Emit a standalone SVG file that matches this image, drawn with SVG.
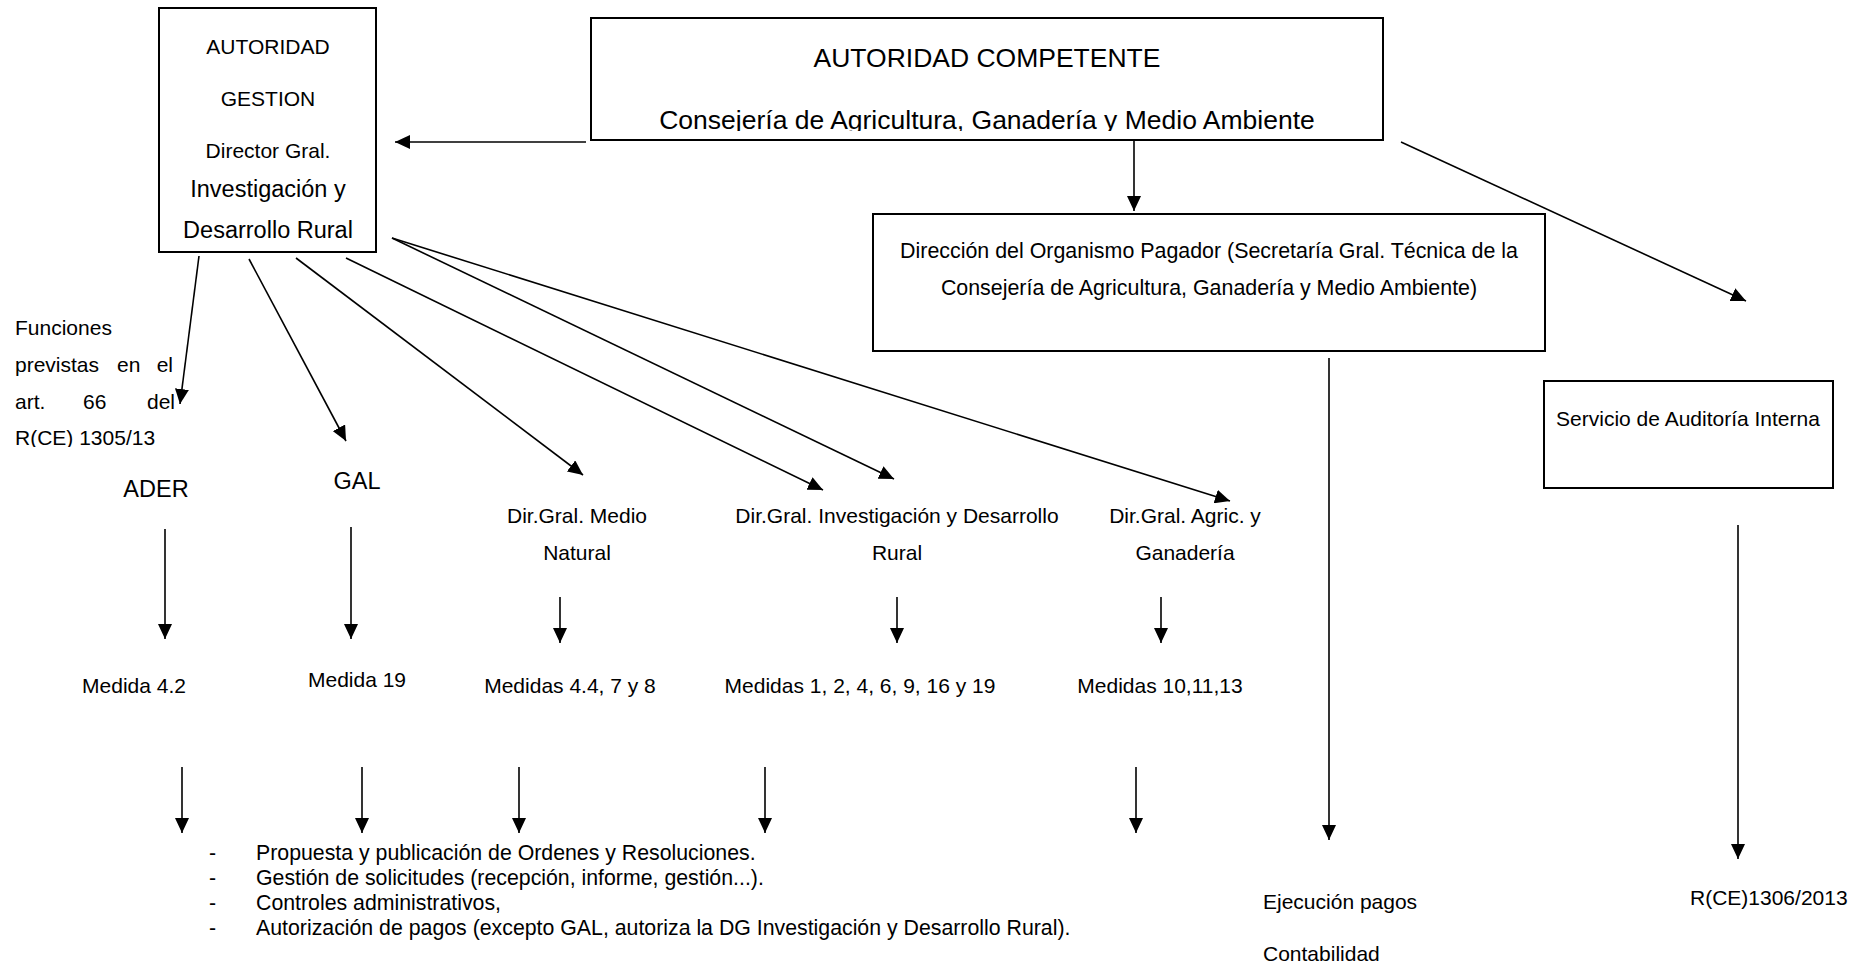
<svg xmlns="http://www.w3.org/2000/svg" width="1865" height="968" viewBox="0 0 1865 968">
<style>
text{font-family:"Liberation Sans",Arial,sans-serif;fill:#000;font-size:21px}
.c{text-anchor:middle}
.e{text-anchor:end}
.big{font-size:23.5px}
.title{font-size:26.5px}
.op{font-size:21.4px}
.li{font-size:21.3px}
.box{fill:#fff;stroke:#000;stroke-width:2}
.ln{stroke:#000;stroke-width:1.6;fill:none;marker-end:url(#ah)}
</style>
<defs>
<marker id="ah" markerUnits="userSpaceOnUse" markerWidth="16" markerHeight="14" refX="15" refY="7" orient="auto">
<path d="M0,0 L15,7 L0,14 z" fill="#000"/>
</marker>
<clipPath id="clipComp"><rect x="591" y="18" width="792" height="113"/></clipPath>
<clipPath id="clipFun"><rect x="0" y="420" width="300" height="27"/></clipPath>
</defs>

<g id="connectors">
<line class="ln" x1="586" y1="142" x2="395" y2="142"/>
<line class="ln" x1="1134" y1="140" x2="1134" y2="211"/>
<line class="ln" x1="1401" y1="142" x2="1746" y2="301"/>
<line class="ln" x1="199" y1="256" x2="180" y2="404"/>
<line class="ln" x1="249" y1="259" x2="346" y2="441"/>
<line class="ln" x1="296" y1="258" x2="583" y2="475"/>
<line class="ln" x1="346" y1="258" x2="823" y2="490"/>
<line class="ln" x1="392" y1="238" x2="894" y2="479"/>
<line class="ln" x1="392" y1="238" x2="1230" y2="501"/>
<line class="ln" x1="165" y1="529" x2="165" y2="639"/>
<line class="ln" x1="351" y1="527" x2="351" y2="639"/>
<line class="ln" x1="560" y1="597" x2="560" y2="643"/>
<line class="ln" x1="897" y1="597" x2="897" y2="643"/>
<line class="ln" x1="1161" y1="597" x2="1161" y2="643"/>
<line class="ln" x1="182" y1="767" x2="182" y2="833"/>
<line class="ln" x1="362" y1="767" x2="362" y2="833"/>
<line class="ln" x1="519" y1="767" x2="519" y2="833"/>
<line class="ln" x1="765" y1="767" x2="765" y2="833"/>
<line class="ln" x1="1136" y1="767" x2="1136" y2="833"/>
<line class="ln" x1="1329" y1="358" x2="1329" y2="840"/>
<line class="ln" x1="1738" y1="525" x2="1738" y2="859"/>
</g>

<g id="autoridad-gestion">
<rect class="box" x="159" y="8" width="217" height="244"/>
<text class="c" x="268" y="54">AUTORIDAD</text>
<text class="c" x="268" y="106">GESTION</text>
<text class="c" x="268" y="158">Director Gral.</text>
<text class="c big" x="268" y="197">Investigación y</text>
<text class="c big" x="268" y="238">Desarrollo Rural</text>
</g>

<g id="autoridad-competente">
<rect class="box" x="591" y="18" width="792" height="122"/>
<text class="c title" x="987" y="67">AUTORIDAD COMPETENTE</text>
<text class="c title" x="987" y="129" clip-path="url(#clipComp)">Consejería de Agricultura, Ganadería y Medio Ambiente</text>
</g>

<g id="organismo-pagador">
<rect class="box" x="873" y="214" width="672" height="137"/>
<text class="c op" x="1209" y="258">Dirección del Organismo Pagador (Secretaría Gral. Técnica de la</text>
<text class="c op" x="1209" y="295">Consejería de Agricultura, Ganadería y Medio Ambiente)</text>
</g>

<g id="auditoria">
<rect class="box" x="1544" y="381" width="289" height="107"/>
<text class="c" x="1688" y="426">Servicio de Auditoría Interna</text>
</g>

<g id="funciones">
<text x="15" y="335">Funciones</text>
<text x="15" y="372">previstas</text>
<text x="117" y="372">en</text>
<text class="e" x="173" y="372">el</text>
<text x="15" y="409">art.</text>
<text x="83" y="409">66</text>
<text class="e" x="175" y="409">del</text>
<text x="15" y="445" clip-path="url(#clipFun)">R(CE) 1305/13</text>
</g>

<g id="ader"><text class="c big" x="156" y="497">ADER</text></g>
<g id="gal"><text class="c big" x="357" y="489">GAL</text></g>
<g id="dg-medio-natural">
<text class="c" x="577" y="523">Dir.Gral. Medio</text>
<text class="c" x="577" y="560">Natural</text>
</g>
<g id="dg-investigacion">
<text class="c" x="897" y="523">Dir.Gral. Investigación y Desarrollo</text>
<text class="c" x="897" y="560">Rural</text>
</g>
<g id="dg-agric">
<text class="c" x="1185" y="523">Dir.Gral. Agric. y</text>
<text class="c" x="1185" y="560">Ganadería</text>
</g>

<g id="medida-42"><text class="c" x="134" y="693">Medida 4.2</text></g>
<g id="medida-19"><text class="c" x="357" y="687">Medida 19</text></g>
<g id="medidas-44"><text class="c" x="570" y="693">Medidas 4.4, 7 y 8</text></g>
<g id="medidas-1"><text class="c" x="860" y="693">Medidas 1, 2, 4, 6, 9, 16 y 19</text></g>
<g id="medidas-10"><text class="c" x="1160" y="693">Medidas 10,11,13</text></g>

<g id="funciones-lista">
<text class="li" x="209" y="860">-</text><text class="li" x="256" y="860">Propuesta y publicación de Ordenes y Resoluciones.</text>
<text class="li" x="209" y="885">-</text><text class="li" x="256" y="885">Gestión de solicitudes (recepción, informe, gestión...).</text>
<text class="li" x="209" y="910">-</text><text class="li" x="256" y="910">Controles administrativos,</text>
<text class="li" x="209" y="935">-</text><text class="li" x="256" y="935">Autorización de pagos (excepto GAL, autoriza la DG Investigación y Desarrollo Rural).</text>
</g>

<g id="ejecucion">
<text x="1263" y="909">Ejecución pagos</text>
<text x="1263" y="961">Contabilidad</text>
</g>

<g id="reglamento"><text x="1690" y="905">R(CE)1306/2013</text></g>
</svg>
